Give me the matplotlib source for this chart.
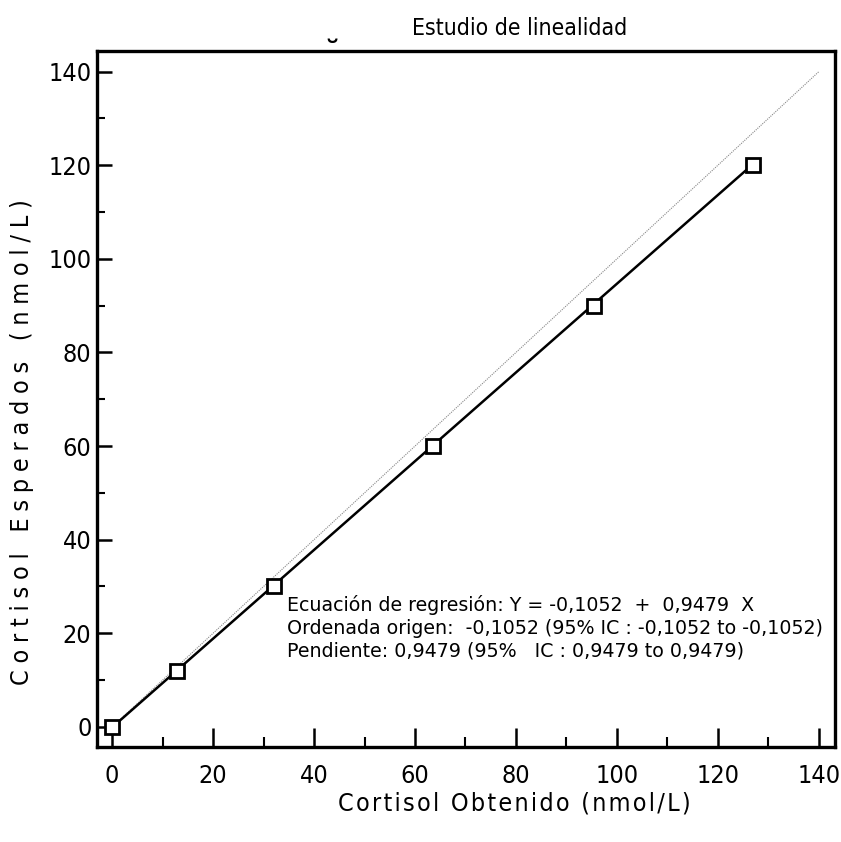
import matplotlib
matplotlib.use("Agg")
import matplotlib.pyplot as plt
from matplotlib.ticker import MultipleLocator

# calibration points: obtained vs expected cortisol (nmol/L)
obtenido = [0.0, 12.9, 32.0, 63.6, 95.4, 126.9]
esperado = [0.0, 12.0, 30.0, 60.0, 90.0, 120.0]

# regression coefficients
ordenada = -0.1052
pendiente = 0.9479

ticks = [0, 20, 40, 60, 80, 100, 120, 140]

fig = plt.figure(figsize=(8.41, 8.42), dpi=100)
ax = fig.add_axes([0.1153, 0.1128, 0.8776, 0.8266])

# identity line
ax.plot([0, 140], [0, 140], color="#888888", lw=0.8, ls=(0, (1, 1)), zorder=1)

# fitted line
x0, x1 = min(obtenido), max(obtenido)
ax.plot([x0, x1], [ordenada + pendiente * x0, ordenada + pendiente * x1],
        color="black", lw=1.8, zorder=2)

ax.plot(obtenido, esperado, ls="none", marker="s", ms=9.5, mfc="white",
        mec="black", mew=2, zorder=3)

ax.set_xlim(-3, 143.2)
ax.set_ylim(-4.3, 144.4)
ax.set_xticks(ticks)
ax.set_yticks(ticks)
ax.xaxis.set_minor_locator(MultipleLocator(10))
ax.yaxis.set_minor_locator(MultipleLocator(10))
ax.tick_params(which="both", direction="in", labelsize=18)
ax.tick_params(axis="x", which="major", length=14, width=1.8, pad=12)
ax.tick_params(axis="x", which="minor", length=7, width=1.5)
ax.tick_params(axis="y", which="major", length=11, width=1.8, pad=4)
ax.tick_params(axis="y", which="minor", length=6, width=1.5)
for lab in ax.get_xticklabels() + ax.get_yticklabels():
    lab.set_fontstretch("condensed")
for s in ax.spines.values():
    s.set_linewidth(2.4)

hair = "\u200a"
thin = "\u2009"
fig.text(0.612, 0.046, hair.join("Cortisol Obtenido (nmol/L)"), fontsize=18,
         ha="center", va="center", stretch="condensed")
fig.text(0.026, 0.475, (thin + hair).join("Cortisol Esperados (nmol/L)"),
         fontsize=18, ha="center", va="center", rotation=90,
         stretch="condensed")
fig.text(0.618, 0.966, "Estudio de linealidad", fontsize=16.5, ha="center",
         va="center", stretch="condensed")
fig.text(0.395, 0.937, "˘", fontsize=22, ha="center", va="center",
         fontweight="bold")

texto = ("Ecuación de regresión: Y = -0,1052  +  0,9479  X\n"
         "Ordenada origen:  -0,1052 (95% IC : -0,1052 to -0,1052)\n"
         "Pendiente: 0,9479 (95%   IC : 0,9479 to 0,9479)")
ax.text(0.257, 0.219, texto, transform=ax.transAxes, fontsize=13.7,
        va="top", ha="left", linespacing=1.27)

fig.savefig("out.png", dpi=100)
